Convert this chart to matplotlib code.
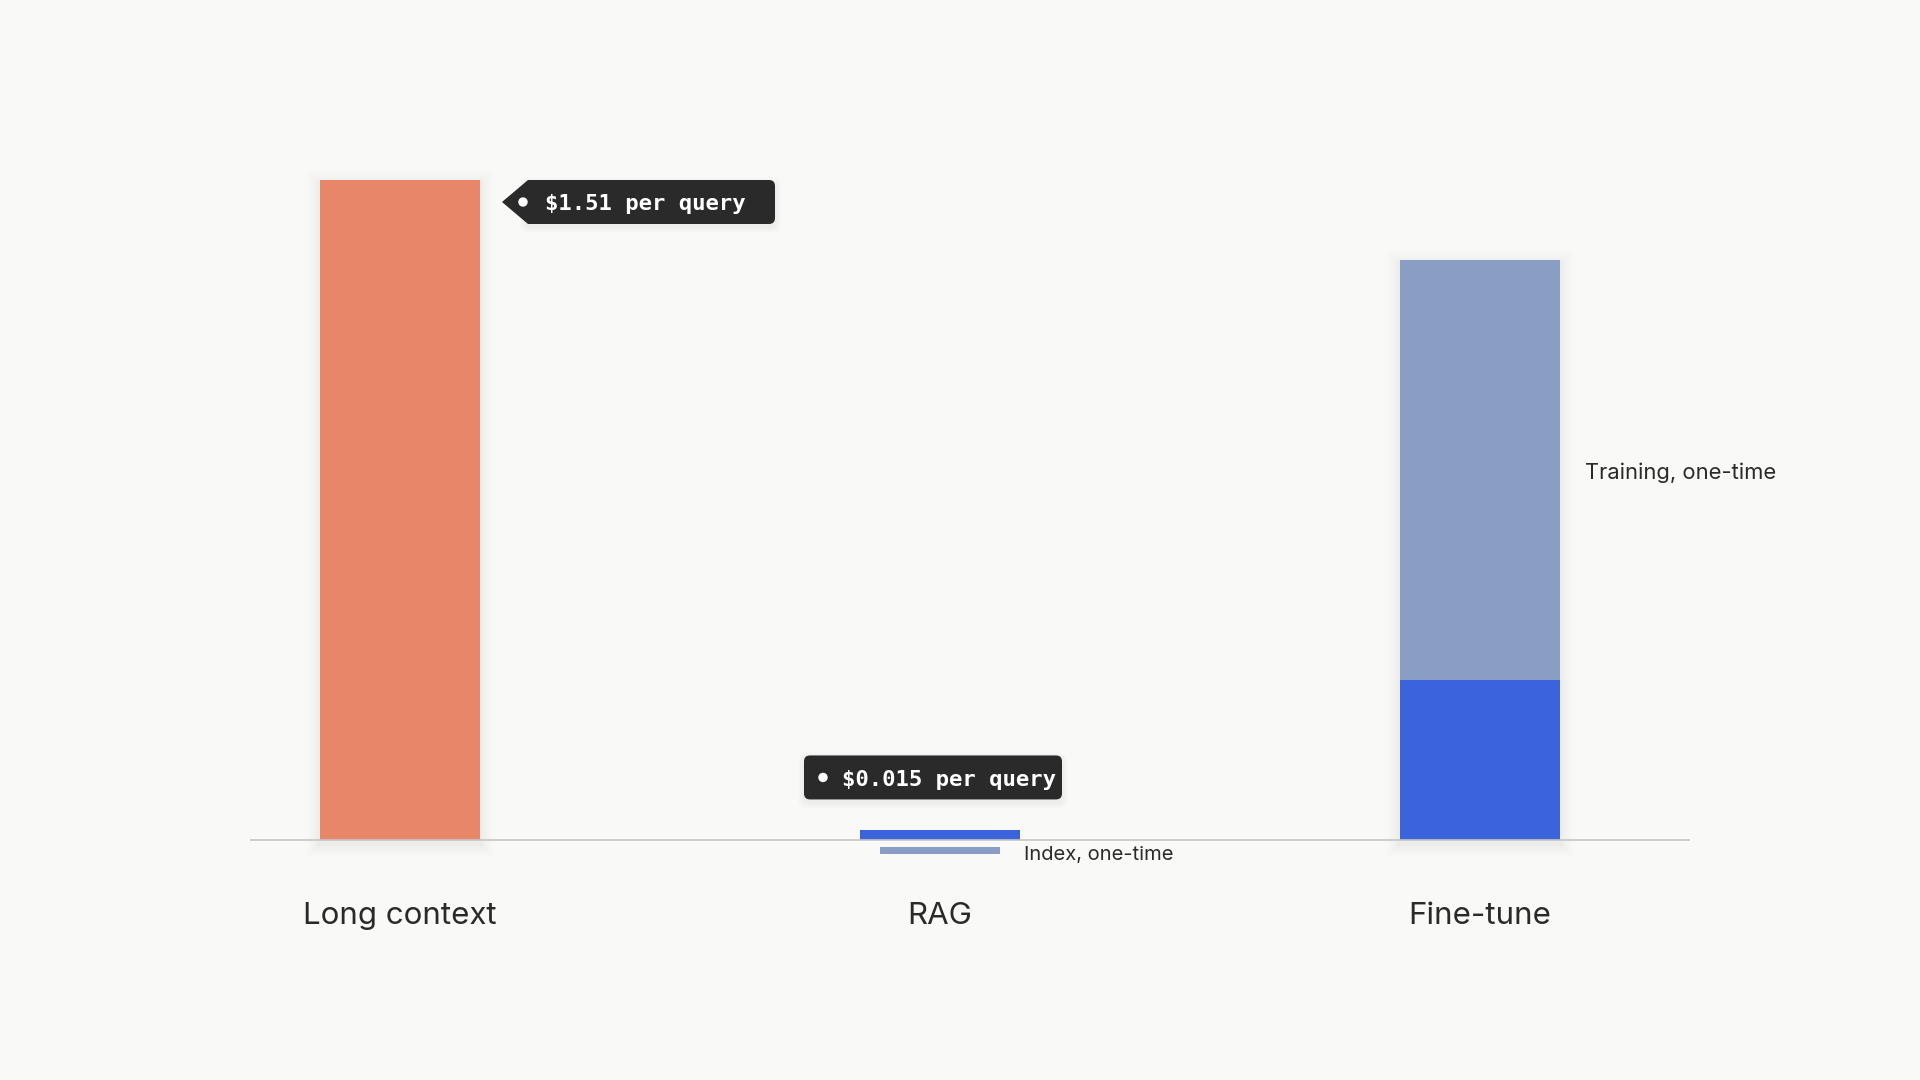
import numpy as np
import matplotlib.pyplot as plt
from matplotlib import transforms
from matplotlib.patches import FancyBboxPatch, Polygon, Circle, Rectangle

# cost over 1,000 queries, in dollars
categories = ["Long context", "RAG", "Fine-tune"]
recurring = [1510, 23, 366]
one_time = [0, 16, 961]
per_query = ["$1.51 per query", "$0.015 per query", None]
one_time_labels = [None, "Index, one-time", "Training, one-time"]

bg = "#F9F9F7"
ink = "#2A2A2A"
c_long = "#E8866A"
c_blue = "#3B63DB"
c_once = "#8A9DC5"
c_axis = "#C6C6C4"

plt.rcParams['font.family'] = ['Inter', 'DejaVu Sans']

fig = plt.figure(figsize=(19.2, 10.8), dpi=100, facecolor=bg)
px = 660 / 1510          # pixels per dollar on the y scale
step = 540               # pixels between categories
ax = fig.add_axes([250 / 1920, 200 / 1080, 1440 / 1920, 760 / 1080])
ax.set_facecolor(bg)
ax.set_xlim(-150 / step, 2 + 210 / step)
ax.set_ylim(-40 / px, 720 / px)
for s in ax.spines.values():
    s.set_visible(False)
ax.set_xticks([])
ax.set_yticks([])

x = np.arange(len(categories))
w = 160 / step
gap = 7 / px


def shadow(x0, y0, width, height):
    # soft drop shadow made of stacked translucent rectangles
    for k in range(1, 14):
        ax.add_patch(Rectangle((x0 - k / step, y0 - (k + 4) / px),
                               width + 2 * k / step, height + 2 * k / px,
                               color="black", alpha=0.005, lw=0, zorder=2))


def px_trans(xd, yd):
    # offsets in pixels (1/100 inch) from a data point
    return fig.dpi_scale_trans + transforms.ScaledTranslation(xd, yd, ax.transData)


# recurring (per-query) cost bars
bar_colors = [c_long, c_blue, c_blue]
for i in range(len(categories)):
    if recurring[i] > 100:
        shadow(x[i] - w / 2, 0, w, recurring[i] + one_time[i])
ax.bar(x, recurring, width=w, color=bar_colors, zorder=3)

# one-time costs: stacked on fine-tune, hanging under the axis for RAG
ax.bar(x[2], one_time[2], bottom=recurring[2], width=w, color=c_once, zorder=3)
ax.bar(x[1], -one_time[1], bottom=-gap, width=w * 0.75, color=c_once, zorder=3)

ax.axhline(0, color=c_axis, lw=1.2, zorder=4)

# category labels
for i, name in enumerate(categories):
    ax.text(0, -0.76, name, transform=px_trans(x[i], 0), ha="center",
            va="center", fontsize=22.5, color=ink)

# one-time labels
ax.text(0.24, -0.05, one_time_labels[1],
        transform=px_trans(x[1] + w * 0.375, -gap - one_time[1] / 2),
        ha="left", va="center", fontsize=14.5, color=ink)
ax.text(0.25, -0.03, one_time_labels[2],
        transform=px_trans(x[2] + w / 2, recurring[2] + one_time[2] / 2),
        ha="left", va="center", fontsize=15.8, color=ink)


def tag(xd, yd, left, right, top, text, arrow=False):
    tr = px_trans(xd, yd)
    h = 0.44
    mid = top - h / 2
    # faint shadow under the tag
    for k in range(1, 7):
        ax.add_patch(FancyBboxPatch((left - 0.02 - k * 0.01, top - h - 0.03 - k * 0.01),
                                    right - left + 0.02 + k * 0.02, h + k * 0.02,
                                    boxstyle="round,pad=0,rounding_size=0.08",
                                    color="black", alpha=0.008, lw=0,
                                    transform=tr, zorder=5, clip_on=False))
    if arrow:
        ax.add_patch(Polygon([(left - 0.26, mid), (left, top), (left + 0.08, top),
                              (left + 0.08, top - h), (left, top - h)],
                             closed=True, color=ink, lw=0, transform=tr,
                             zorder=6, clip_on=False))
    ax.add_patch(FancyBboxPatch((left - 0.02, top - h), right - left + 0.02, h,
                                boxstyle="round,pad=0,rounding_size=0.06",
                                color=ink, lw=0, transform=tr, zorder=6,
                                clip_on=False))
    ax.add_patch(Circle((left + 0.17 if not arrow else left - 0.05, mid), 0.04,
                        color="white", transform=tr, zorder=7, clip_on=False))
    ax.text(left + 0.36 if not arrow else left + 0.17, mid - 0.025, text,
            transform=tr, ha="left", va="center", fontsize=16,
            fontweight="bold", family="DejaVu Sans Mono", color="white",
            zorder=8)


tag(x[0] + w / 2, recurring[0], 0.48, 2.95, 0.0, per_query[0], arrow=True)
tag(x[1], recurring[1], -1.34, 1.22, 0.745, per_query[1])

fig.savefig("out.png", dpi=100, facecolor=bg)
